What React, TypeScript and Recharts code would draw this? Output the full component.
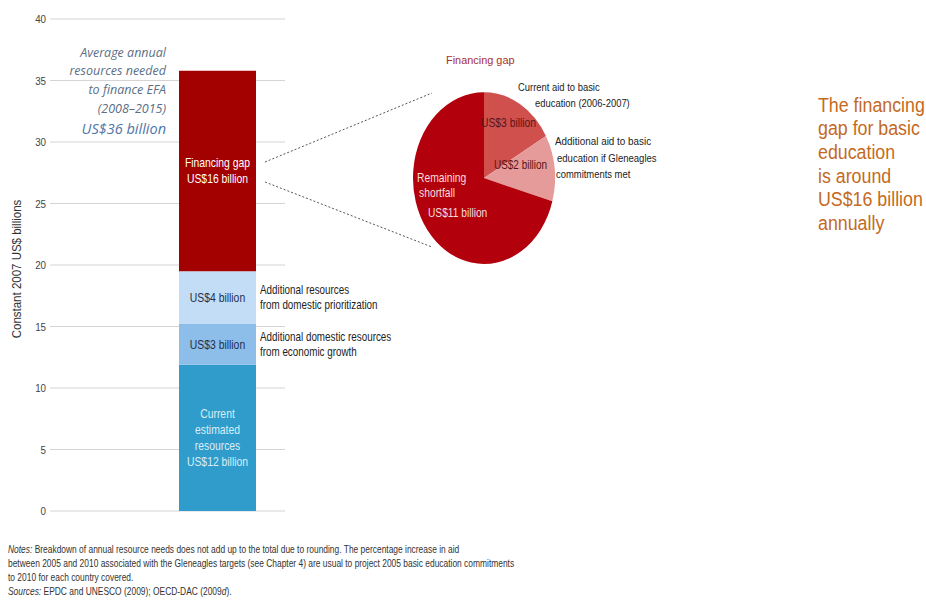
import React from 'react';
import { BarChart, Bar, XAxis, YAxis, CartesianGrid, LabelList, PieChart, Pie, Cell } from 'recharts';

const FONT = "'Liberation Sans', Arial, sans-serif";

// stacked bar, bottom to top
const segmentKeys = ['current', 'growth', 'prioritization', 'gap'];
const segmentValues = [11.9, 3.3, 4.3, 16.3];
const segmentColors = ['#2f9ccb', '#8dbde9', '#c3ddf6', '#a30000'];
const segmentTextColors = ['#d8eef8', '#1f2f4f', '#1f2f4f', '#ffffff'];
const segmentLabels = [
  ['Current', 'estimated', 'resources', 'US$12 billion'],
  ['US$3 billion'],
  ['US$4 billion'],
  ['Financing gap', 'US$16 billion'],
];
const segmentNotes = [
  [],
  ['Additional domestic resources', 'from economic growth'],
  ['Additional resources', 'from domestic prioritization'],
  [],
];
const yTicks = [0, 5, 10, 15, 20, 25, 30, 35, 40];

// pie: breakdown of the financing gap, clockwise from the top
const gapParts = ['Current aid', 'Gleneagles aid', 'Remaining shortfall'];
const gapValues = [2.7, 2.0, 11.3];
const gapColors = ['#cf504d', '#e49b99', '#b3000d'];

const totalLines = ['Average annual', 'resources needed', 'to finance EFA', '(2008–2015)'];
const calloutLines = ['The financing', 'gap for basic', 'education', 'is around', 'US$16 billion', 'annually'];

const barData = [
  segmentKeys.reduce((row: any, k, i) => ({ ...row, [k]: segmentValues[i] }), { name: 'EFA' }),
];
const pieData = gapParts.map((name, i) => ({ name, value: gapValues[i] }));

// the source uses a condensed face, so squeeze the text horizontally
const CText = ({ x, y, sx = 0.82, children, ...rest }: any) => (
  <text
    transform={`translate(${x} ${y}) scale(${sx} 1)`}
    x={0}
    y={0}
    dominantBaseline="central"
    fontFamily={FONT}
    fontSize={11.5}
    fill="#222"
    {...rest}
  >
    {children}
  </text>
);

const segmentLabel = (i: number) => (props: any) => {
  const vb = props.viewBox || props;
  const x = Number(vb.x);
  const w = Number(vb.width);
  const y = Math.min(Number(vb.y), Number(vb.y) + Number(vb.height));
  const h = Math.abs(Number(vb.height));
  const cy = y + h / 2;
  const lines = segmentLabels[i];
  const notes = segmentNotes[i];
  const step = 16;
  const top = cy - ((lines.length - 1) * step) / 2;
  const noteTop = cy - ((notes.length - 1) * 15) / 2;
  return (
    <g>
      {lines.map((t, j) => (
        <CText key={j} x={x + w / 2} y={top + j * step} sx={0.83} textAnchor="middle" fill={segmentTextColors[i]} fontSize={12.5}>
          {t}
        </CText>
      ))}
      {notes.map((t, j) => (
        <CText key={'n' + j} x={x + w + 4} y={noteTop + j * 15} sx={0.82} fontSize={12}>
          {t}
        </CText>
      ))}
    </g>
  );
};

const YTick = (p: any) => (
  <CText x={p.x} y={p.y} sx={0.85} textAnchor="end" fontSize={11.5} fill="#444">
    {p.payload.value}
  </CText>
);

const App = () => {
  return (
    <div style={{ position: 'absolute', left: 0, top: 0, width: 926, height: 609, background: '#fff', overflow: 'hidden' }}>
      {/* Stacked bar */}
      <div style={{ position: 'absolute', left: 0, top: 0 }}>
        <BarChart width={420} height={530} data={barData} margin={{ top: 19, right: 135, bottom: 19, left: 0 }}>
          <CartesianGrid vertical={false} stroke="#d4d4d4" />
          <XAxis dataKey="name" hide padding={{ left: 100, right: 0 }} />
          <YAxis
            width={50}
            domain={[0, 40]}
            ticks={yTicks}
            axisLine={false}
            tickLine={false}
            tickSize={0}
            tickMargin={4}
            tick={YTick}
          />
          {segmentKeys.map((k, i) => (
            <Bar key={k} dataKey={k} stackId="a" fill={segmentColors[i]} barSize={77} isAnimationActive={false}>
              <LabelList dataKey={k} content={segmentLabel(i)} />
            </Bar>
          ))}
        </BarChart>
      </div>

      {/* Financing gap pie (source image is stretched vertically) */}
      <div style={{ position: 'absolute', left: 389, top: 82, width: 180, height: 180, transform: 'scaleY(1.21)' }}>
        <PieChart width={180} height={180}>
          <Pie
            data={pieData}
            dataKey="value"
            cx={90}
            cy={90}
            outerRadius={71}
            startAngle={90}
            endAngle={-270}
            stroke="none"
            isAnimationActive={false}
          >
            {pieData.map((d, i) => (
              <Cell key={d.name} fill={gapColors[i]} />
            ))}
          </Pie>
        </PieChart>
      </div>

      {/* Annotations */}
      <svg width={926} height={609} style={{ position: 'absolute', left: 0, top: 0, pointerEvents: 'none' }}>
        <g transform="rotate(-90 17 269)">
          <CText x={17} y={269} sx={0.92} textAnchor="middle" fontSize={12.5} fill="#333">
            Constant 2007 US$ billions
          </CText>
        </g>

        {totalLines.map((t, j) => (
          <text
            key={t}
            x={166}
            y={52 + j * 18.7}
            textAnchor="end"
            dominantBaseline="central"
            fontFamily="'Open Sans', sans-serif"
            fontStyle="italic"
            fontSize={12.5}
            fill="#5c6f86"
          >
            {t}
          </text>
        ))}
        <text
          x={166}
          y={128}
          textAnchor="end"
          dominantBaseline="central"
          fontFamily="'Open Sans', sans-serif"
          fontStyle="italic"
          fontSize={14.5}
          fill="#4f76aa"
        >
          US$36 billion
        </text>

        <line x1={265} y1={162} x2={432} y2={93} stroke="#555" strokeWidth={1} strokeDasharray="2 2" />
        <line x1={265} y1={182} x2={432} y2={247} stroke="#555" strokeWidth={1} strokeDasharray="2 2" />

        <CText x={446} y={60} sx={0.95} fill="#a83030">Financing gap</CText>
        <CText x={518} y={87}>Current aid to basic</CText>
        <CText x={535} y={103}>education (2006-2007)</CText>
        <CText x={481} y={123} sx={0.86} fill="#5a1414" fontSize={12}>US$3 billion</CText>
        <CText x={555} y={141} sx={0.86}>Additional aid to basic</CText>
        <CText x={557} y={158} sx={0.83}>education if Gleneagles</CText>
        <CText x={556} y={174}>commitments met</CText>
        <CText x={494} y={165} sx={0.83} fill="#5a1414" fontSize={12}>US$2 billion</CText>
        <CText x={417} y={178} sx={0.86} fill="#f4dede" fontSize={12}>Remaining</CText>
        <CText x={419} y={193} sx={0.86} fill="#f4dede" fontSize={12}>shortfall</CText>
        <CText x={428} y={213} sx={0.85} fill="#f4dede" fontSize={12}>US$11 billion</CText>

        {calloutLines.map((t, j) => (
          <CText key={t} x={818} y={105 + j * 23.6} sx={0.89} fontSize={20} fill="#c46a1e">
            {t}
          </CText>
        ))}
      </svg>

      {/* Notes */}
      <div
        style={{
          position: 'absolute',
          left: 8,
          top: 542,
          fontFamily: FONT,
          fontSize: 11,
          lineHeight: '14px',
          color: '#333',
          whiteSpace: 'nowrap',
          transform: 'scaleX(0.765)',
          transformOrigin: 'left top',
        }}
      >
        <i>Notes:</i> Breakdown of annual resource needs does not add up to the total due to rounding. The percentage increase in aid
        <br />
        between 2005 and 2010 associated with the Gleneagles targets (see Chapter 4) are usual to project 2005 basic education commitments
        <br />
        to 2010 for each country covered.
        <br />
        <i>Sources:</i> EPDC and UNESCO (2009); OECD-DAC (2009<i>d</i>).
      </div>
    </div>
  );
};

export default App;
